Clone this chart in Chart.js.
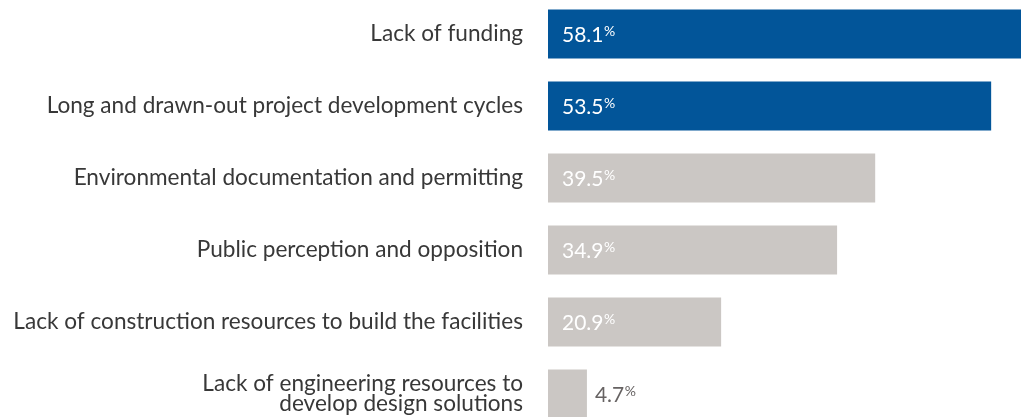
<!DOCTYPE html>
<html>
<head>
<meta charset="utf-8">
<script src="https://cdn.jsdelivr.net/npm/chart.js@4/dist/chart.umd.min.js"></script>
<style>
  html, body { margin: 0; padding: 0; background: #ffffff; overflow: hidden; width: 1021px; height: 417px; }
  #c { position: absolute; left: 0; top: -2px; }
</style>
</head>
<body>
<canvas id="c" width="1045" height="432" style="width:1045px;height:432px"></canvas>
<script>
const categories = [
  "Lack of funding",
  "Long and drawn-out project development cycles",
  "Environmental documentation and permitting",
  "Public perception and opposition",
  "Lack of construction resources to build the facilities",
  ["Lack of engineering resources to", "develop design solutions"]
];
const values = [58.1, 53.5, 39.5, 34.9, 20.9, 4.7];

const BLUE = '#025599';
const GRAY = '#cbc7c4';
const FONT = 'Lato, "Open Sans", sans-serif';

const valueLabels = {
  id: 'valueLabels',
  afterDatasetsDraw(chart) {
    const ctx = chart.ctx;
    const meta = chart.getDatasetMeta(0);
    ctx.save();
    meta.data.forEach((bar, i) => {
      const v = values[i];
      const num = v.toFixed(1);
      const inside = v >= 10;
      const x = inside ? bar.base + 14 : bar.x + 8;
      const y = bar.y;
      ctx.fillStyle = inside ? '#ffffff' : '#666262';
      ctx.textAlign = 'left';
      ctx.textBaseline = 'alphabetic';
      ctx.font = '21px ' + FONT;
      const numW = ctx.measureText(num).width;
      ctx.fillText(num, x, y + 8);
      ctx.font = '14px ' + FONT;
      ctx.fillText('%', x + numW + 0.5, y + 1.5);
    });
    ctx.restore();
  }
};

new Chart(document.getElementById('c'), {
  type: 'bar',
  data: {
    labels: categories,
    datasets: [{
      data: values,
      backgroundColor: (c) => c.dataIndex < 2 ? BLUE : GRAY,
      borderWidth: 0,
      barPercentage: 0.68,
      categoryPercentage: 1.0
    }]
  },
  options: {
    indexAxis: 'y',
    responsive: false,
    animation: false,
    layout: { padding: 0 },
    plugins: { legend: { display: false }, tooltip: { enabled: false } },
    scales: {
      x: { display: false, min: 0, max: 60 },
      y: {
        grid: { display: false, drawTicks: false },
        border: { display: false },
        ticks: {
          color: '#383838',
          padding: 25,
          font: { family: FONT, size: 22.6, weight: 400, lineHeight: 0.89 }
        },
        afterFit(scale) {
          scale.width = 548;
          scale.paddingTop = 0;
          scale.paddingBottom = 0;
        }
      }
    }
  },
  plugins: [valueLabels]
});
</script>
</body>
</html>
